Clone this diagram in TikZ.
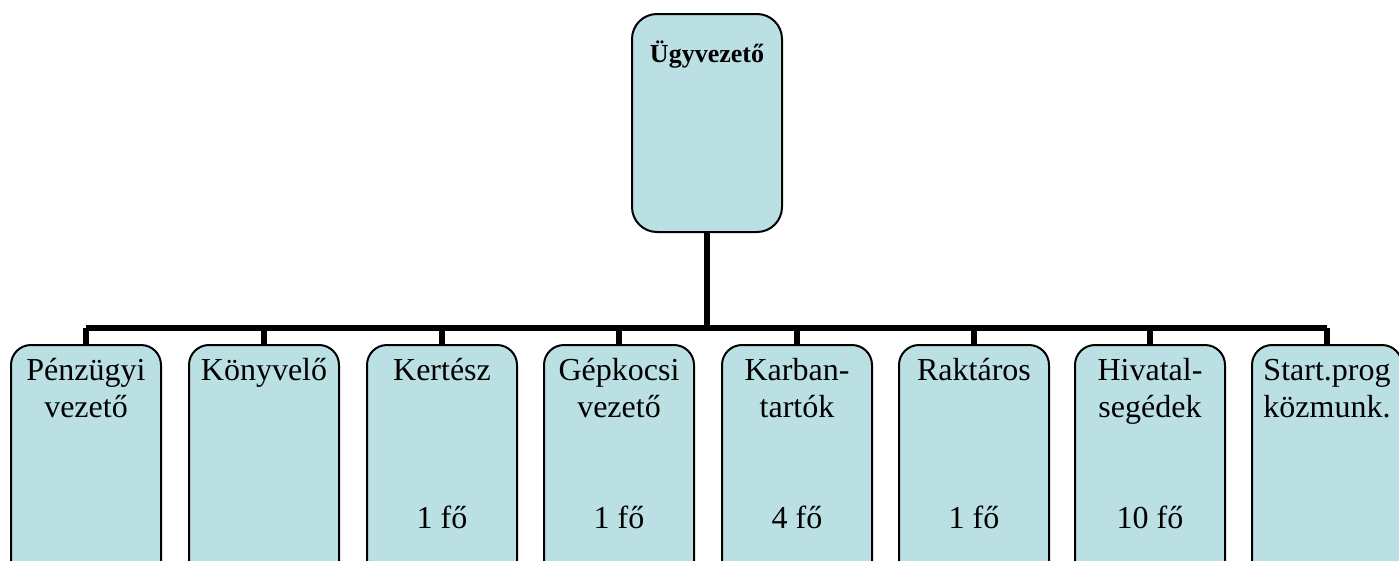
\documentclass[tikz,border=0pt]{standalone}
\usepackage{fontspec}
\setmainfont{Liberation Serif}
\usetikzlibrary{positioning}
\definecolor{boxblue}{RGB}{187,224,227}
\tikzset{
  unit/.style={draw=black, line width=2pt, fill=boxblue, rounded corners=20pt,
    minimum width=150pt, minimum height=260pt, anchor=north, inner sep=0pt},
  head/.style={unit, rounded corners=25pt, minimum height=218pt},
  unittext/.style={font=\fontsize{32}{37}\selectfont, anchor=base, inner sep=0pt},
  bus/.style={line width=6pt, line join=miter},
}
\begin{document}
\begin{tikzpicture}[x=1pt,y=-1pt]
\clip (0,0) rectangle (1399,560);
\coordinate (busrow) at (0,328);
% manager
\node[head] (boss) at (707,13) {};
\node[font=\bfseries\fontsize{26}{30}\selectfont, anchor=base] (bossname) at (707,62) {Ügyvezető};
\draw[bus] (boss.south) -- (boss.south |- busrow);
% staff
\foreach \x/\first/\second/\num [count=\i] in {
  86/Pénzügyi/vezető/{},
  264/Könyvelő/{}/{},
  442/Kertész/{}/{1 fő},
  619/Gépkocsi/vezető/{1 fő},
  797/Karban-/tartók/{4 fő},
  974/Raktáros/{}/{1 fő},
  1150/Hivatal-/segédek/{10 fő},
  1327/Start.prog/közmunk./{}}{
  \node[unit] (u\i) at (\x,344) {};
  \node[unittext] (a\i) at (\x,380) {\first};
  \node[unittext] (b\i) at (\x,417) {\second};
  \node[unittext] (c\i) at (\x,528) {\num};
  \draw[bus] (u\i.north) -- (u\i.north |- busrow);
}
\draw[bus] (u1.north |- busrow) -- (u8.north |- busrow);
\end{tikzpicture}
\end{document}
